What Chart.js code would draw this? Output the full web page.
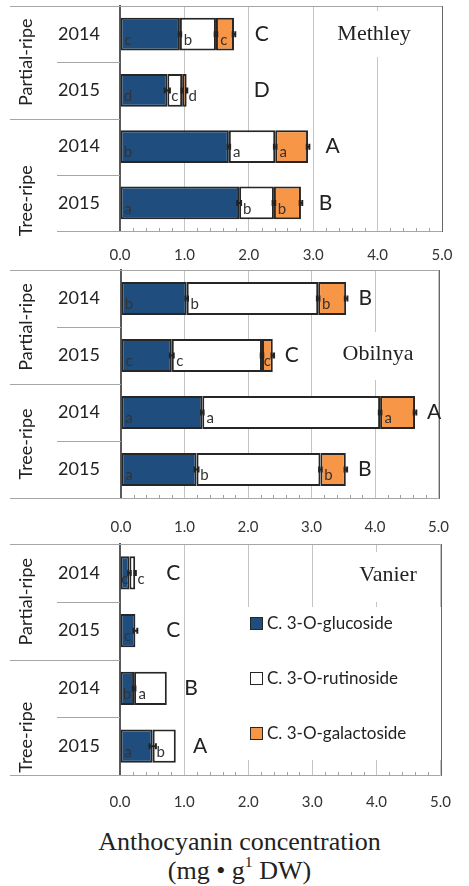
<!DOCTYPE html>
<html>
<head>
<meta charset="utf-8">
<script src="https://cdn.jsdelivr.net/npm/chart.js@4.4.1/dist/chart.umd.min.js"></script>
<style>
body { margin: 0; background: #fff; }
#wrap { position: relative; width: 469px; height: 886px; overflow: hidden; }
canvas { position: absolute; left: 0; }
.ttl { position: absolute; left: 0; width: 479px; text-align: center; font-family: 'Liberation Serif', 'Times New Roman', serif; font-size: 26px; line-height: 26px; color: #222; white-space: nowrap; }
.ttl sup { font-size: 60%; line-height: 0; position: relative; top: -0.15em; }
</style>
</head>
<body>
<div id="wrap">
  <canvas id="c1" width="469" height="262" style="top:0px"></canvas>
  <canvas id="c2" width="469" height="270" style="top:262px"></canvas>
  <canvas id="c3" width="469" height="290" style="top:532px"></canvas>
  <div class="ttl" style="top:829px">Anthocyanin concentration</div>
  <div class="ttl" style="top:858px">(mg • g<sup>1</sup> DW)</div>
</div>
<script>
// categories
var years = ['2014', '2015', '2014', '2015'];
var groups = ['Partial-ripe', 'Tree-ripe'];
var seriesNames = ['C. 3-O-glucoside', 'C. 3-O-rutinoside', 'C. 3-O-galactoside'];
var xTicks = [0, 1, 2, 3, 4, 5];

// Methley
var methleyGlu = [0.93, 0.735, 1.69, 1.85];
var methleyRut = [0.56, 0.23, 0.72, 0.54];
var methleyGal = [0.28, 0.07, 0.51, 0.42];
var methleyGluSd = [0.02, 0.04, 0.02, 0.03];
var methleyRutSd = [0.02, 0.01, 0.02, 0.02];
var methleyGalSd = [0.02, 0.01, 0.02, 0.02];
var methleyGluLet = ['c', 'd', 'b', 'a'];
var methleyRutLet = ['b', 'c', 'a', 'b'];
var methleyGalLet = ['c', 'd', 'a', 'b'];
var methleyTotLet = ['C', 'D', 'A', 'B'];

// Obilnya
var obilnyaGlu = [1.035, 0.80, 1.28, 1.19];
var obilnyaRut = [2.07, 1.42, 2.80, 1.95];
var obilnyaGal = [0.44, 0.17, 0.55, 0.40];
var obilnyaGluSd = [0.02, 0.03, 0.02, 0.03];
var obilnyaRutSd = [0.02, 0.02, 0.02, 0.02];
var obilnyaGalSd = [0.02, 0.02, 0.02, 0.02];
var obilnyaGluLet = ['b', 'c', 'a', 'a'];
var obilnyaRutLet = ['b', 'c', 'a', 'b'];
var obilnyaGalLet = ['b', 'c', 'a', 'b'];
var obilnyaTotLet = ['B', 'C', 'A', 'B'];

// Vanier (no galactoside)
var vanierGlu = [0.147, 0.24, 0.22, 0.51];
var vanierRut = [0.09, null, 0.51, 0.36];
var vanierGal = [null, null, null, null];
var vanierGluSd = [0.02, 0.03, 0.02, 0.05];
var vanierRutSd = [0.01, null, null, null];
var vanierGalSd = [null, null, null, null];
var vanierGluLet = ['c', 'c', 'b', 'a'];
var vanierRutLet = ['c', '', 'a', 'b'];
var vanierGalLet = ['', '', '', ''];
var vanierTotLet = ['C', 'C', 'B', 'A'];

var barColors = ['#1f4e7e', '#ffffff', '#f79646'];
var SANS = 'Lato, "Open Sans", sans-serif';

function hline(ctx, x0, x1, y) {
    y = Math.round(y) + 0.5;
    ctx.beginPath(); ctx.moveTo(x0, y); ctx.lineTo(x1, y); ctx.stroke();
}
function vline(ctx, x, y0, y1) {
    x = Math.round(x) + 0.5;
    ctx.beginPath(); ctx.moveTo(x, y0); ctx.lineTo(x, y1); ctx.stroke();
}

var panelPlugin = {
    id: 'panel',
    beforeDatasetsDraw: function (chart, args, o) {
        var ctx = chart.ctx, a = chart.chartArea, x = chart.scales.x, y = chart.scales.y;
        var mid = function (i) { return (y.getPixelForValue(i) + y.getPixelForValue(i + 1)) / 2; };
        ctx.save();

        // white boxes hide the grid behind name and legend
        ctx.fillStyle = '#fff';
        o.boxes.forEach(function (b) { ctx.fillRect(b[0], b[1], b[2], b[3]); });

        // minor ticks
        ctx.strokeStyle = '#a0a0a0'; ctx.lineWidth = 1;
        for (var v = 0.2; v < 5; v += 0.2) {
            if (Math.abs(v - Math.round(v)) < 1e-6) continue;
            vline(ctx, x.getPixelForValue(v), a.bottom - 3, a.bottom);
        }

        // frame and separators
        ctx.strokeStyle = '#a6a6a6';
        hline(ctx, 10, a.right, a.top);
        hline(ctx, o.bottomFrom, a.right, a.bottom);
        hline(ctx, 57, a.left, mid(0));
        hline(ctx, 10, a.left, mid(1));
        hline(ctx, 57, a.left, mid(2));
        ctx.strokeStyle = '#666';
        vline(ctx, a.right, a.top, a.bottom + 1);

        // year labels
        ctx.fillStyle = '#222';
        ctx.font = '18px ' + SANS;
        ctx.textAlign = 'center'; ctx.textBaseline = 'middle';
        years.forEach(function (t, i) { ctx.fillText(t, 79, y.getPixelForValue(i)); });

        // group labels
        var gy = [(a.top + mid(1)) / 2, (mid(1) + a.bottom) / 2 + o.treeShift];
        groups.forEach(function (t, k) {
            ctx.save();
            ctx.translate(26, gy[k]);
            ctx.rotate(-Math.PI / 2);
            ctx.fillText(t, 0, 0);
            ctx.restore();
        });

        // panel name
        ctx.font = '22px "Liberation Serif", "Times New Roman", serif';
        ctx.textBaseline = 'alphabetic';
        ctx.fillText(o.name, o.nameX, o.nameY);

        // legend
        if (o.legend) {
            ctx.font = '17px ' + SANS;
            ctx.textAlign = 'left'; ctx.textBaseline = 'middle';
            seriesNames.forEach(function (t, k) {
                var ly = o.legendY[k];
                ctx.fillStyle = barColors[k];
                ctx.fillRect(250, ly - 6, 12, 12);
                ctx.strokeStyle = '#262626'; ctx.lineWidth = 1;
                ctx.strokeRect(250.5, ly - 5.5, 12, 12);
                ctx.fillStyle = '#222';
                ctx.fillText(t, 267, ly + 1);
            });
        }
        ctx.restore();
    },
    afterDatasetsDraw: function (chart, args, o) {
        var ctx = chart.ctx, x = chart.scales.x, y = chart.scales.y;
        var vals = o.vals, sds = o.sds, lets = o.lets;
        ctx.save();
        for (var i = 0; i < years.length; i++) {
            var yc = y.getPixelForValue(i);
            var start = 0;
            for (var k = 0; k < 3; k++) {
                var v = vals[k][i];
                if (v == null) continue;
                var end = start + v;
                var p0 = x.getPixelForValue(start), p1 = x.getPixelForValue(end);
                // error bar at segment end
                var e = sds[k][i];
                if (e != null) {
                    var e0 = x.getPixelForValue(end - e), e1 = x.getPixelForValue(end + e);
                    ctx.strokeStyle = '#222'; ctx.lineWidth = 2;
                    ctx.beginPath();
                    ctx.moveTo(e0, yc); ctx.lineTo(e1, yc);
                    ctx.moveTo(e0, yc - 3); ctx.lineTo(e0, yc + 3);
                    ctx.moveTo(e1, yc - 3); ctx.lineTo(e1, yc + 3);
                    ctx.stroke();
                }
                // letter inside segment
                var w = p1 - p0;
                var lx = w < 8 ? p1 + 6 : p0 + Math.min(8, w / 2);
                ctx.fillStyle = '#333';
                ctx.font = '15px ' + SANS;
                ctx.textAlign = 'center'; ctx.textBaseline = 'middle';
                ctx.fillText(lets[k][i], lx, yc + 6);
                start = end;
            }
            // total significance letter
            var tx = x.getPixelForValue(Math.max(start + o.capOff, o.capMin));
            ctx.fillStyle = '#222';
            ctx.font = '21px ' + SANS;
            ctx.textAlign = 'center'; ctx.textBaseline = 'middle';
            ctx.fillText(o.totLet[i], tx, yc);
        }
        ctx.restore();
    }
};

function panel(id, d, lay) {
    var ds = [d.glu, d.rut, d.gal].map(function (v, k) {
        return {
            label: seriesNames[k],
            data: v,
            backgroundColor: barColors[k],
            borderColor: '#262626',
            borderWidth: 2,
            borderSkipped: false,
            barPercentage: 0.58,
            categoryPercentage: 1
        };
    });
    return new Chart(document.getElementById(id), {
        type: 'bar',
        data: { labels: years, datasets: ds },
        options: {
            indexAxis: 'y',
            responsive: false,
            animation: false,
            layout: { padding: { top: lay.top, right: lay.right, left: 0, bottom: 0 } },
            plugins: {
                legend: { display: false },
                tooltip: { enabled: false },
                panel: {
                    name: d.name, nameX: lay.nameX, nameY: lay.nameY,
                    boxes: lay.boxes, bottomFrom: lay.bottomFrom, treeShift: lay.treeShift,
                    legend: lay.legend, legendY: lay.legendY,
                    capOff: lay.capOff, capMin: lay.capMin,
                    vals: [d.glu, d.rut, d.gal], sds: d.sds, lets: d.lets, totLet: d.totLet
                }
            },
            scales: {
                x: {
                    stacked: true, min: 0, max: 5,
                    afterBuildTicks: function (s) { s.ticks = xTicks.map(function (v) { return { value: v }; }); },
                    ticks: {
                        callback: function (v) { return Number(v).toFixed(1); },
                        font: { family: 'Lato', size: 15 }, color: '#333',
                        padding: lay.tickPad, maxRotation: 0, autoSkip: false
                    },
                    grid: { color: '#c4c4c4', lineWidth: 1, drawTicks: false },
                    border: { display: false },
                    afterFit: function (s) { s.height = lay.xh; }
                },
                y: {
                    stacked: true,
                    ticks: { display: false },
                    grid: { display: false },
                    border: { color: '#595959', width: 2 },
                    afterFit: function (s) { s.width = lay.left; }
                }
            }
        },
        plugins: [panelPlugin]
    });
}

panel('c1', {
    name: 'Methley', glu: methleyGlu, rut: methleyRut, gal: methleyGal,
    sds: [methleyGluSd, methleyRutSd, methleyGalSd],
    lets: [methleyGluLet, methleyRutLet, methleyGalLet], totLet: methleyTotLet
}, {
    top: 6, right: 27, left: 120, xh: 31, tickPad: 15,
    nameX: 374, nameY: 40, boxes: [[335, 11, 82, 46]],
    bottomFrom: 57, treeShift: 26, capOff: 0.38, capMin: 2.2
});

panel('c2', {
    name: 'Obilnya', glu: obilnyaGlu, rut: obilnyaRut, gal: obilnyaGal,
    sds: [obilnyaGluSd, obilnyaRutSd, obilnyaGalSd],
    lets: [obilnyaGluLet, obilnyaRutLet, obilnyaGalLet], totLet: obilnyaTotLet
}, {
    top: 8, right: 26, left: 121, xh: 34, tickPad: 20,
    nameX: 378, nameY: 98, boxes: [[335, 70, 85, 48]],
    bottomFrom: 10, treeShift: 3, capOff: 0.3, capMin: 0
});

panel('c3', {
    name: 'Vanier', glu: vanierGlu, rut: vanierRut, gal: vanierGal,
    sds: [vanierGluSd, vanierRutSd, vanierGalSd],
    lets: [vanierGluLet, vanierRutLet, vanierGalLet], totLet: vanierTotLet
}, {
    top: 12, right: 18, left: 120, xh: 47, tickPad: 18,
    nameX: 388, nameY: 49, boxes: [[352, 20, 74, 50], [245, 75, 203, 153]],
    legend: true, legendY: [91, 146, 201],
    bottomFrom: 10, treeShift: 20, capOff: 0.38, capMin: 0.83
});
</script>
</body>
</html>
